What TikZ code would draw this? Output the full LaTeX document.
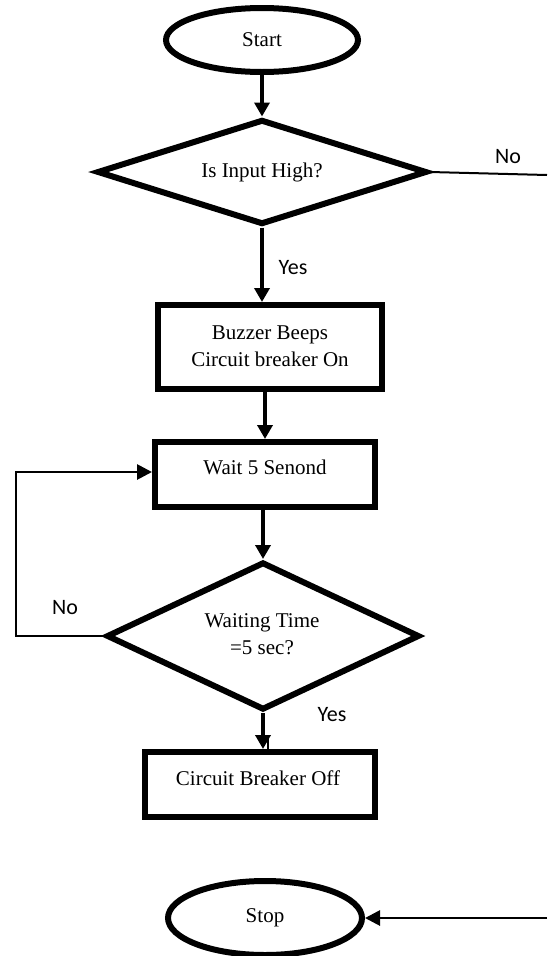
\documentclass[tikz,border=0pt]{standalone}
\usepackage{fontspec}
\setmainfont{Liberation Serif}
\newfontfamily\labfont{Carlito}
\usetikzlibrary{shapes.geometric,arrows.meta}
\begin{document}
\begin{tikzpicture}[x=1pt,y=-1pt,
  term/.style={ellipse,draw,line width=6pt,inner sep=0pt,font=\fontsize{21}{27}\selectfont},
  dec/.style={diamond,draw,line width=6pt,inner sep=0pt},
  proc/.style={rectangle,draw,line width=6pt,inner sep=0pt},
  txt/.style={font=\fontsize{21}{27}\selectfont,align=center,inner sep=0pt},
  lab/.style={font=\labfont\fontsize{22}{26}\selectfont,inner sep=0pt},
  flow/.style={line width=3.5pt,-{Triangle[length=14pt,width=15pt]}},
  thinflow/.style={line width=2.8pt,-{Triangle[length=15pt,width=15pt]}},
  thinline/.style={line width=2pt}]
\useasboundingbox (0,0) rectangle (547,956);
% nodes
\node[term,minimum width=192pt,minimum height=64pt] (start) at (262,40) {Start};
\node[dec,minimum width=330pt,minimum height=105pt] (d1) at (262,172) {};
\node[txt] (d1t) at (262,172) {Is Input High?};
\node[proc,minimum width=224pt,minimum height=84pt] (b1) at (270,347) {};
\node[txt] (b1t) at (270,346) {Buzzer Beeps\\Circuit breaker On};
\node[proc,minimum width=220pt,minimum height=65pt] (wait) at (265,474.5) {};
\node[txt] (waitt) at (265,467) {Wait 5 Senond};
\node[dec,minimum width=313pt,minimum height=148pt] (d2) at (263,636) {};
\node[txt] (d2t) at (262,634) {Waiting Time\\=5 sec?};
\node[proc,minimum width=230pt,minimum height=65pt] (b3) at (260,784.5) {};
\node[txt] (b3t) at (258,778) {Circuit Breaker Off};
\node[term,minimum width=194pt,minimum height=74pt] (stop) at (265,918) {Stop};
% labels
\node[lab] (no1) at (508,157) {No};
\node[lab] (yes1) at (293,268) {Yes};
\node[lab] (no2) at (65,608) {No};
\node[lab] (yes2) at (332,715) {Yes};
% free ends
\coordinate (noend) at (547,175);
\coordinate (lp1) at (16,636);
\coordinate (lp2) at (16,472);
\coordinate (stopin) at (547,918);
% connectors
\draw[flow] (start.south) -- (d1.north);
\draw[thinline] (d1.east) -- (noend);
\draw[flow] (d1.south) -- (d1.south |- b1.north);
\draw[flow] (wait.north |- b1.south) -- (wait.north);
\draw[flow] (d2.north |- wait.south) -- (d2.north);
\draw[thinflow] (d2.west) -- (lp1) -- (lp2) -- (lp2 -| wait.west);
\draw[flow] (d2.south) -- (d2.south |- b3.north);
\draw[line width=1.5pt] ([xshift=8pt]b3.north) -- ++(0,-12);
\draw[thinflow] (stopin) -- (stop.east);
\end{tikzpicture}
\end{document}
